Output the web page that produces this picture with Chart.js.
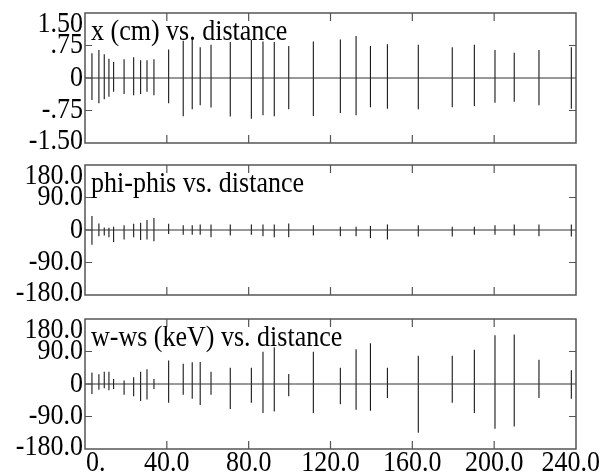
<!DOCTYPE html>
<html>
<head>
<meta charset="utf-8">
<script src="https://cdn.jsdelivr.net/npm/chart.js@4/dist/chart.umd.min.js"></script>
<style>
    body { margin: 0; background: #fff; }
    #wrap { position: relative; width: 610px; height: 472px; }
    #wrap canvas { position: absolute; left: 0; top: 0; }
</style>
</head>
<body>
<div id="wrap">
    <canvas id="c1" width="610" height="472"></canvas>
    <canvas id="c2" width="610" height="472"></canvas>
    <canvas id="c3" width="610" height="472"></canvas>
</div>
<script>
// Data
const distance = [3.4, 6.8, 9.4, 11.7, 14.0, 19.1, 23.8, 27.2, 30.3, 33.7, 40.9, 48.0, 52.4, 56.3, 61.6, 71.0,
    81.3, 87.0, 92.5, 99.6, 111.6, 124.8, 132.5, 139.5, 147.8, 162.9, 179.5, 190.3, 200.4, 209.8, 221.9, 237.7];

const xHi = [0.57, 0.645, 0.55, 0.445, 0.37, 0.43, 0.48, 0.41, 0.41, 0.43, 0.66, 0.86, 0.875, 0.71, 0.77, 0.83,
    0.875, 0.845, 0.83, 0.74, 0.845, 0.89, 0.97, 0.74, 0.78, 0.77, 0.71, 0.77, 0.645, 0.58, 0.645, 0.71];
const xLo = [-0.51, -0.58, -0.49, -0.43, -0.32, -0.37, -0.40, -0.37, -0.32, -0.40, -0.58, -0.88, -0.72, -0.63, -0.68, -0.89,
    -0.94, -0.86, -0.88, -0.72, -0.875, -0.81, -0.86, -0.675, -0.71, -0.72, -0.675, -0.645, -0.57, -0.55, -0.63, -0.71];

const phiHi = [39, 18, 7, 6, 9, 13, 17, 20, 28, 33, 17, 13, 13, 15, 15, 15, 15, 15, 15, 18, 13, 9, 9, 11, 15, 13, 9, 9, 13, 15, 15, 15];
const phiLo = [-41, -17, -15, -20, -33, -26, -20, -28, -26, -31, -11, -13, -13, -13, -20, -15, -13, -17, -20, -20, -15, -17, -17, -22, -26, -18, -18, -13, -13, -15, -17, -18];

const wHi = [32, 27, 34, 34, 14, 10, 19, 34, 41, 14, 65, 56, 60, 61, 34, 45, 45, 89, 102, 28, 89, 45, 96, 113, 45, 78, 78, 95, 135, 137, 67, 38];
const wLo = [-28, -16, -12, -17, -14, -30, -34, -47, -43, -14, -52, -30, -41, -58, -30, -69, -52, -80, -76, -34, -80, -56, -71, -74, -39, -135, -52, -80, -124, -118, -39, -41];

const xTicks = [0, 40, 80, 120, 160, 200, 240];
const xTickLabels = ['0.', '40.0', '80.0', '120.0', '160.0', '200.0', '240.0'];
const xPosTicks = [-1.5, -0.75, 0, 0.75, 1.5];
const xPosLabels = ['-1.50', '-.75', '0', '.75', '1.50'];
const degTicks = [-180, -90, 0, 90, 180];
const degLabels = ['-180.0', '-90.0', '0', '90.0', '180.0'];

const FONT = '26px "Liberation Serif", "Times New Roman", serif';
const STRETCH = 1.15;   // the original lettering is taller than plain Times

// text drawn a bit taller than the font, like the old plotter output
function tallText(ctx, str, x, y, align, baseline) {
    ctx.save();
    ctx.translate(x, y);
    ctx.scale(1, STRETCH);
    ctx.textAlign = align;
    ctx.textBaseline = baseline;
    ctx.fillText(str, 0, 0);
    ctx.restore();
}

// frame, zero line, inward tick marks, tick labels and the panel title
const framePlugin = {
    id: 'frame',
    afterDraw(chart, args, opts) {
        const { ctx, chartArea: a, scales } = chart;
        const x = scales.x, y = scales.y;
        ctx.save();
        // zero line
        ctx.strokeStyle = '#333';
        ctx.lineWidth = 1.2;
        const y0 = y.getPixelForValue(0);
        ctx.beginPath();
        ctx.moveTo(a.left, y0);
        ctx.lineTo(a.right, y0);
        ctx.stroke();
        // inward ticks
        ctx.strokeStyle = '#555';
        ctx.beginPath();
        xTicks.slice(1, -1).forEach(v => {
            const px = x.getPixelForValue(v);
            ctx.moveTo(px, a.top); ctx.lineTo(px, a.top + 8);
            ctx.moveTo(px, a.bottom); ctx.lineTo(px, a.bottom - 8);
        });
        opts.yTicks.forEach((v, i) => {
            if (i === 0 || i === opts.yTicks.length - 1) return;
            const py = y.getPixelForValue(v);
            ctx.moveTo(a.left, py); ctx.lineTo(a.left + 7, py);
            if (v !== 0) { ctx.moveTo(a.right, py); ctx.lineTo(a.right - 7, py); }
        });
        ctx.stroke();
        // frame
        ctx.lineWidth = 1.5;
        ctx.strokeRect(a.left, a.top, a.right - a.left, a.bottom - a.top);

        ctx.fillStyle = '#000';
        ctx.font = FONT;
        // y labels, the end ones kept inside the frame height
        const last = opts.yTicks.length - 1;
        opts.yTicks.forEach((v, i) => {
            let py = y.getPixelForValue(v);
            if (i === last) py += 11;
            if (i === 0) py -= 2;
            tallText(ctx, opts.yLabels[i], a.left - 2, py, 'right', 'middle');
        });
        // x labels, clamped to the frame on the left and the page on the right
        if (opts.showX) {
            xTicks.forEach((v, i) => {
                const w = ctx.measureText(xTickLabels[i]).width;
                let left = x.getPixelForValue(v) - w / 2;
                left = Math.max(left, a.left + 1);
                left = Math.min(left, chart.width - 10 - w);
                tallText(ctx, xTickLabels[i], left, a.bottom + 22, 'left', 'alphabetic');
            });
        }
        // title
        tallText(ctx, opts.title, a.left + 6, a.top + 27, 'left', 'alphabetic');
        ctx.restore();
    }
};

function makePanel(id, title, lo, hi, yTicks, yLabels, top, bottom, showX) {
    const ctx = document.getElementById(id).getContext('2d');
    return new Chart(ctx, {
        type: 'bar',
        data: {
            datasets: [{
                data: distance.map((d, i) => ({ x: d, y: [lo[i], hi[i]] })),
                backgroundColor: '#000',
                borderWidth: 0,
                inflateAmount: 0,
                barThickness: 1
            }]
        },
        options: {
            responsive: false,
            animation: false,
            layout: { padding: { left: 0, right: 34, top: top, bottom: bottom } },
            plugins: {
                legend: { display: false },
                tooltip: { enabled: false },
                frame: { title: title, yTicks: yTicks, yLabels: yLabels, showX: showX }
            },
            scales: {
                x: {
                    type: 'linear',
                    offset: false,
                    min: 0,
                    max: 240,
                    afterBuildTicks: s => { s.ticks = xTicks.map(v => ({ value: v })); },
                    afterFit: s => { s.height = showX ? 23 : 0; },
                    grid: { display: false, drawTicks: false },
                    border: { display: false },
                    ticks: { display: false }
                },
                y: {
                    min: yTicks[0],
                    max: yTicks[yTicks.length - 1],
                    afterBuildTicks: s => { s.ticks = yTicks.map(v => ({ value: v })); },
                    afterFit: s => { s.width = 85; },
                    grid: { display: false, drawTicks: false },
                    border: { display: false },
                    ticks: { display: false }
                }
            }
        },
        plugins: [framePlugin]
    });
}

document.addEventListener('DOMContentLoaded', () => {
    makePanel('c1', 'x (cm) vs. distance', xLo, xHi, xPosTicks, xPosLabels, 13, 329, false);
    makePanel('c2', 'phi-phis vs. distance', phiLo, phiHi, degTicks, degLabels, 165, 177, false);
    makePanel('c3', 'w-ws (keV) vs. distance', wLo, wHi, degTicks, degLabels, 319, 0, true);
});
</script>
</body>
</html>
